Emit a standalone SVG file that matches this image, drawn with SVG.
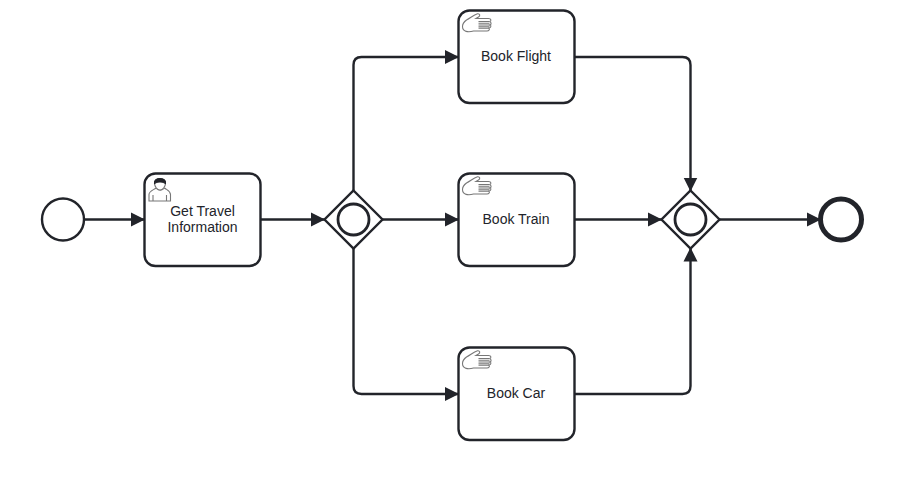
<svg xmlns="http://www.w3.org/2000/svg" width="917" height="488" viewBox="0 0 917 488">
<style>
.bg{fill:#fff}
.task,.ev,.gw,.in{fill:#fff;stroke:#22242a;stroke-width:2.4}
.in{fill:none;stroke-width:2.800}
.end{stroke-width:5}
.flow{fill:none;stroke:#22242a;stroke-width:2.400}
.lbl{font-family:"Liberation Sans",Arial,sans-serif;font-size:14px;fill:#22242a;text-anchor:middle}
.ico{fill:#fff;stroke:#777;stroke-width:1.100}
</style>
<defs>
<marker id="arr" markerUnits="userSpaceOnUse" markerWidth="16" markerHeight="16" refX="14" refY="8" orient="auto">
<path d="M0 1 L14 8 L0 15 Z" fill="#22242a"/>
</marker>
<g id="hand" class="ico">
<path d="M5 7 C9 5 12 2 16 .8 C18.500 .5 19 3 17 4 L14.500 5.500 H27 C30 5.500 30 8 28 8.500 C30 9 30 11.500 28.500 12 C30 12.500 29.500 15 27.500 15 C28.500 16.500 27.500 18 25.500 18 H12 C7 19.500 1 19 1 13.500 C1 10.500 3 8.500 5 7 Z"/>
<path d="M17 8.500 H28 M17 10.300 H28 M17 12 H28.500 M17 13.700 H28 M17 15.300 H27.500"/>
</g>
<g id="user" class="ico">
<path d="M.5 23 V16.500 C.5 13 5 12 7.500 10 C10.500 13 13.500 13 16 10 C18.500 12 22 13 22 16.500 V23 Z"/>
<path d="M4.500 23 V17 M18 23 V17"/>
<path d="M6 5 C6 2 8.500 .5 11.500 .5 C14.500 .5 17 2 17 5 C17 9 14 12 11.500 12 C9 12 6 9 6 5 Z"/>
<path d="M6 5.500 C5.500 2 8.500 .5 11.500 .5 C15 .5 17.500 2.500 17 5.500 C14 3.500 9 3.500 6 5.500 Z" fill="#22242a" stroke="#22242a"/>
</g>
</defs>
<rect class="bg" width="917" height="488"/>
<g id="connectors">
<path class="flow" marker-end="url(#arr)" d="M84 219.500 H145"/>
<path class="flow" marker-end="url(#arr)" d="M260 219.500 H325"/>
<path class="flow" marker-end="url(#arr)" d="M382 219.500 H459"/>
<path class="flow" marker-end="url(#arr)" d="M353.500 190.500 V65 Q353.500 57 361.500 57 H459"/>
<path class="flow" marker-end="url(#arr)" d="M353.500 248.500 V386 Q353.500 394 361.500 394 H459"/>
<path class="flow" marker-end="url(#arr)" d="M574 219.500 H662"/>
<path class="flow" marker-end="url(#arr)" d="M574 57 H682.500 Q690.500 57 690.500 65 V191.500"/>
<path class="flow" marker-end="url(#arr)" d="M574 394 H682.500 Q690.500 394 690.500 386 V247.500"/>
<path class="flow" marker-end="url(#arr)" d="M719 219.500 H821"/>
</g>
<g id="start"><circle class="ev" cx="63" cy="219.500" r="21"/></g>
<g id="get-travel">
<rect class="task" x="144.500" y="173.500" width="116" height="92.500" rx="11"/>
<use href="#user" x="148.500" y="178"/>
<text class="lbl" x="202.500" y="216">Get Travel</text>
<text class="lbl" x="202.500" y="232">Information</text>
</g>
<g id="split">
<path class="gw" d="M353.500 190.500 L382.500 219.500 L353.500 248.500 L324.500 219.500 Z"/>
<circle class="in" cx="353.500" cy="219.500" r="15.500"/>
</g>
<g id="book-flight">
<rect class="task" x="458.500" y="10.500" width="116" height="92.500" rx="11"/>
<use href="#hand" x="461.500" y="13"/>
<text class="lbl" x="516" y="61">Book Flight</text>
</g>
<g id="book-train">
<rect class="task" x="458.500" y="173.500" width="116" height="92.500" rx="11"/>
<use href="#hand" x="461.500" y="176"/>
<text class="lbl" x="516" y="224">Book Train</text>
</g>
<g id="book-car">
<rect class="task" x="458.500" y="347.500" width="116" height="92.500" rx="11"/>
<use href="#hand" x="461.500" y="350"/>
<text class="lbl" x="516" y="398">Book Car</text>
</g>
<g id="join">
<path class="gw" d="M690.500 190.500 L719.500 219.500 L690.500 248.500 L661.500 219.500 Z"/>
<circle class="in" cx="690.500" cy="219.500" r="15.500"/>
</g>
<g id="end"><circle class="ev end" cx="841" cy="219.500" r="20.500"/></g>
</svg>
